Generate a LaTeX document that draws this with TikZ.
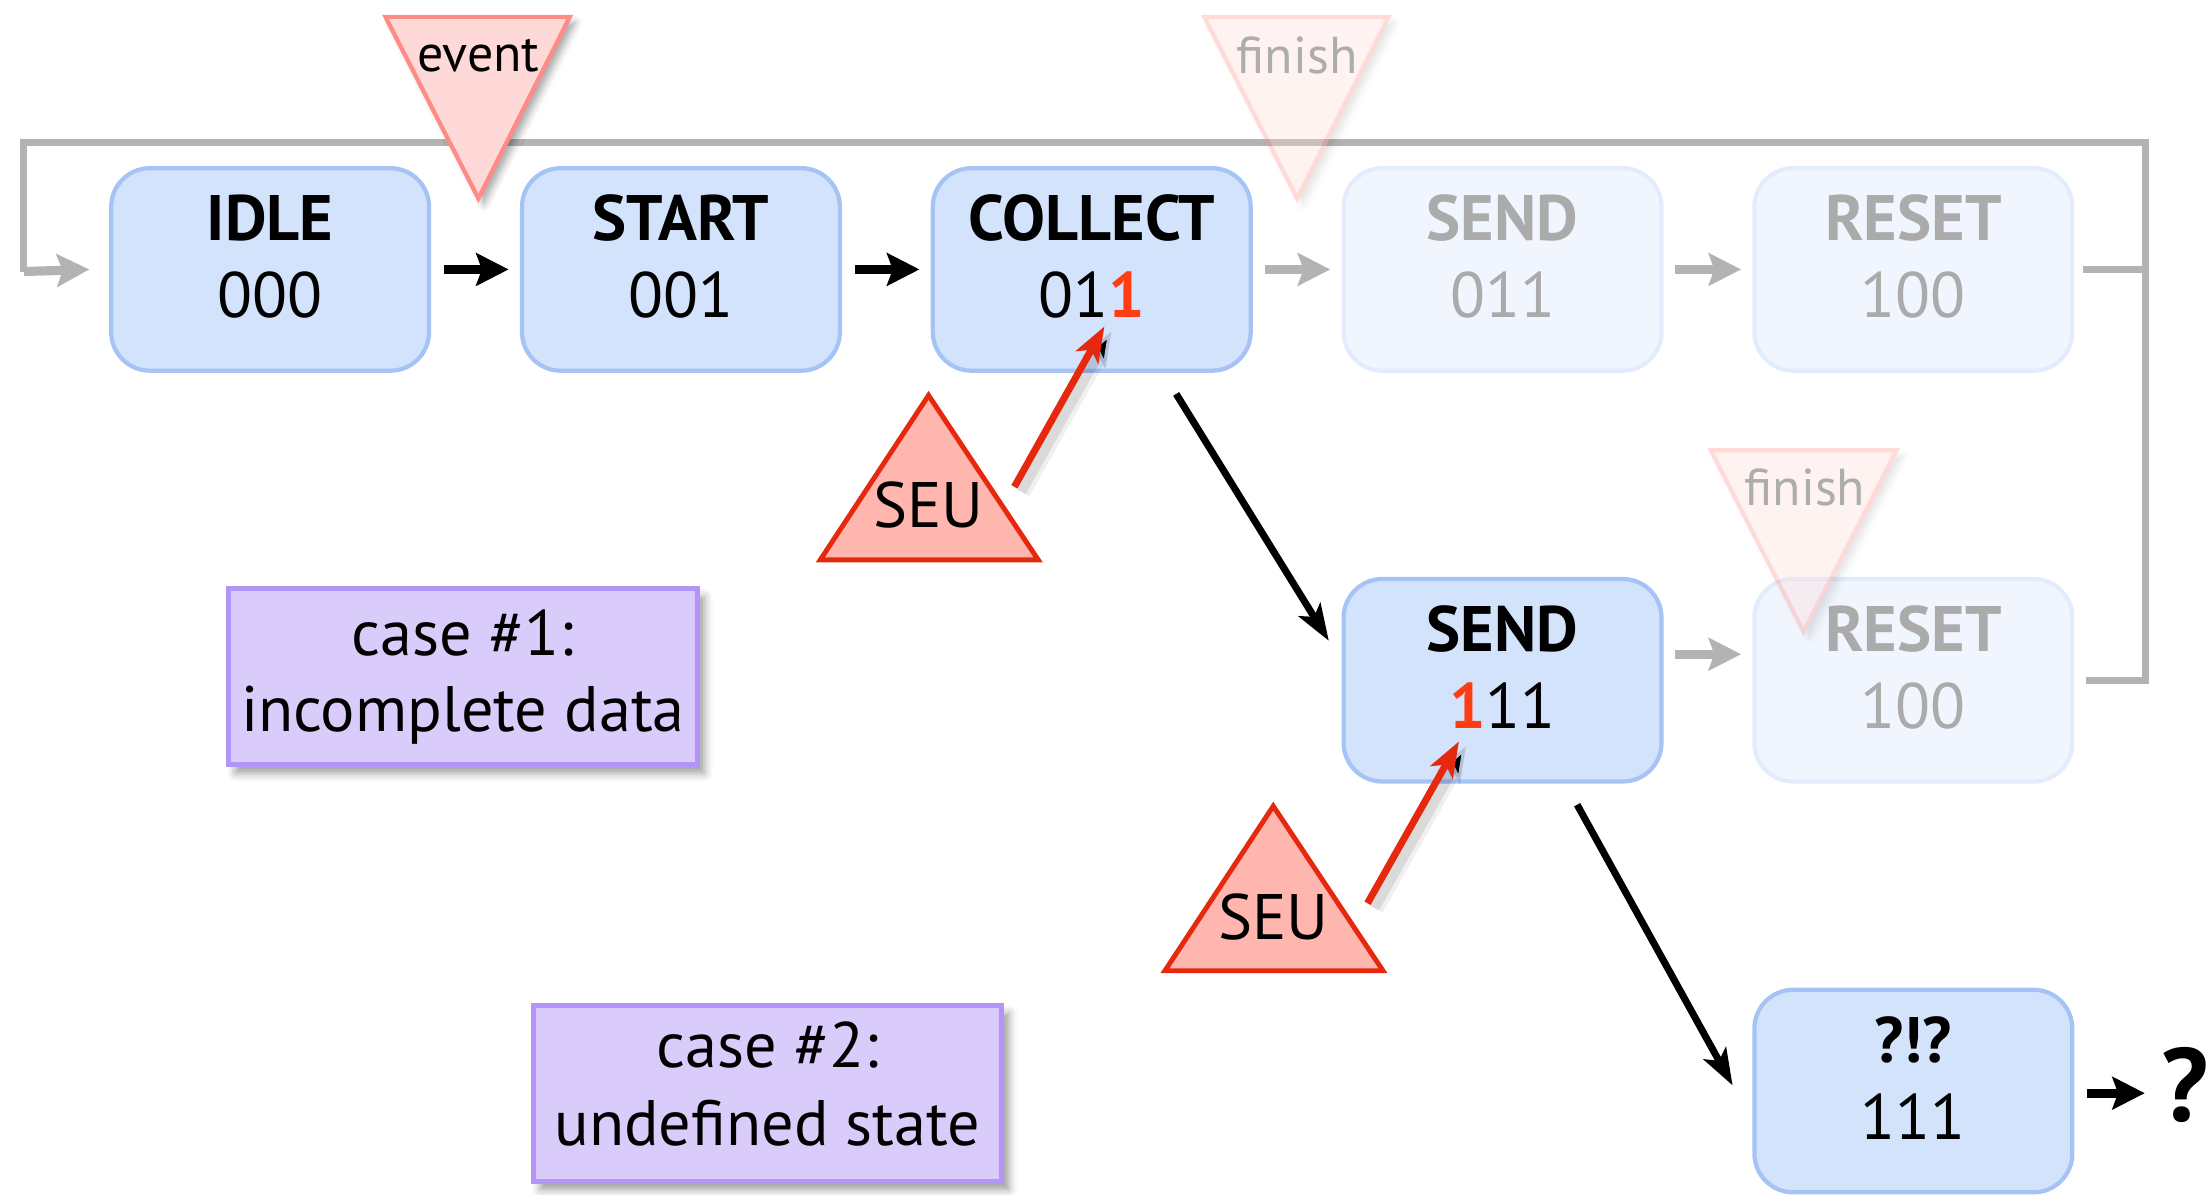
\documentclass[tikz,border=0pt]{standalone}
\usepackage{fontspec}
\setmainfont{PT Sans}
\usetikzlibrary{arrows.meta,calc,shadows.blur}

\definecolor{boxfill}{HTML}{D4E3FC}
\definecolor{boxline}{HTML}{A5C3F5}
\definecolor{fadefill}{HTML}{F1F6FE}
\definecolor{fadeline}{HTML}{E3ECFC}
\definecolor{fadetext}{HTML}{ABABAB}
\definecolor{loopgray}{HTML}{B3B3B3}
\definecolor{casefill}{HTML}{D9CCFB}
\definecolor{caseline}{HTML}{B394F7}
\definecolor{seufill}{HTML}{FFB6AF}
\definecolor{seuline}{HTML}{E6290E}
\definecolor{evfill}{HTML}{FFD9D8}
\definecolor{evline}{HTML}{FF8C84}
\definecolor{digred}{HTML}{FF3D12}

\tikzset{
  state/.style={rectangle, rounded corners=0.55cm, minimum width=4.52cm,
    minimum height=2.88cm, fill=boxfill, draw=boxline, line width=0.06cm, inner sep=0pt},
  fadestate/.style={state, fill=fadefill, draw=fadeline},
  casebox/.style={rectangle, fill=casefill, draw=caseline, line width=0.07cm,
    minimum width=6.66cm, minimum height=2.5cm, inner sep=0pt,
    blur shadow={shadow xshift=0.1cm, shadow yshift=-0.12cm,
      shadow blur radius=0.12cm, shadow opacity=40}},
  ttl/.style={font=\fontsize{26}{30}\selectfont\bfseries, inner sep=0pt, anchor=base},
  val/.style={font=\fontsize{26}{30}\selectfont, inner sep=0pt, anchor=base},
  small/.style={font=\fontsize{21}{24}\selectfont, inner sep=0pt, anchor=base},
  flow/.style={line width=0.13cm, -{Stealth[length=0.46cm, width=0.46cm, inset=0.08cm]}},
  blackflow/.style={flow, draw=black},
  grayflow/.style={flow, draw=loopgray},
  loopline/.style={line width=0.1cm, draw=loopgray},
  diag/.style={line width=0.1cm, -{Stealth[length=0.52cm, width=0.36cm, inset=0.12cm]}},
  hit/.style={line width=0.1cm, draw=seuline,
    -{Stealth[length=0.5cm, width=0.36cm, inset=0.12cm]},
    preaction={draw=black, draw opacity=0.06, line width=0.26cm,
      transform canvas={shift={(0.1cm,-0.07cm)}}},
    preaction={draw=black, draw opacity=0.09, line width=0.14cm,
      transform canvas={shift={(0.1cm,-0.07cm)}}}},
  evtri/.style={fill=evfill, draw=evline, line width=0.06cm, line join=miter,
    blur shadow={shadow xshift=0.08cm, shadow yshift=-0.08cm,
      shadow blur radius=0.1cm, shadow opacity=35}},
  seutri/.style={fill=seufill, draw=seuline, line width=0.07cm, line join=miter},
}

% a state box with its name on top and its code below
\newcommand\fsmstate[6]{%
  \node[#2] (#1) at (#3) {};
  \node[ttl,text=#6] (#1-t) at ($(#1.center)+(0,-20.5)$) {#4};
  \node[val,text=#6] (#1-v) at ($(#1.center)+(0,34.5)$) {#5};}

\begin{document}
\begin{tikzpicture}[x=0.02cm,y=-0.02cm]
\useasboundingbox (0,0) rectangle (1568,849);

% states, first row
\fsmstate{idle}{state}{192,191.5}{IDLE}{000}{black}
\fsmstate{start}{state}{484,191.5}{START}{001}{black}
\fsmstate{collect}{state}{776,191.5}{COLLECT}{01\textbf{\color{digred}1}}{black}
\fsmstate{sendA}{fadestate}{1068,191.5}{SEND}{011}{fadetext}
\fsmstate{resetA}{fadestate}{1360,191.5}{RESET}{100}{fadetext}
% states, second row
\fsmstate{sendB}{state}{1068,483.5}{SEND}{\textbf{\color{digred}1}11}{black}
\fsmstate{resetB}{fadestate}{1360,483.5}{RESET}{100}{fadetext}
% undefined state
\fsmstate{undef}{state}{1360,775.5}{?!?}{111}{black}

% loop back to IDLE
\coordinate (loopTR) at (1525,101);
\coordinate (loopTL) at (17,101);
\coordinate (loopBL) at (17,193);
\draw[loopline] ($(resetB.east)+(8,0)$) -- (loopTR |- resetB.east) -- (loopTR)
  -- (loopTL) -- (loopBL);
\draw[loopline] ($(resetA.east)+(6,0)$) -- (loopTR |- resetA.east);
\draw[grayflow] (loopBL) -- ($(idle.west)+(-14,0)$);

% transitions of the first row
\draw[blackflow] ($(idle.east)+(9,0)$) -- ($(start.west)+(-8,0)$);
\draw[blackflow] ($(start.east)+(9,0)$) -- ($(collect.west)+(-8,0)$);
\draw[grayflow] ($(collect.east)+(9,0)$) -- ($(sendA.west)+(-8,0)$);
\draw[grayflow] ($(sendA.east)+(8,0)$) -- ($(resetA.west)+(-8,0)$);
% transitions of the second row
\draw[grayflow] ($(sendB.east)+(8,-18.5)$) -- ($(resetB.west)+(-8,-18.5)$);
\draw[blackflow] ($(undef.east)+(9,1.5)$) -- ($(undef.east)+(50,1.5)$);
\node[font=\fontsize{42}{46}\selectfont\bfseries, inner sep=0pt, anchor=base]
  (unknown) at (1553,797) {?};

% upset jumps
\coordinate (d1s) at ($(collect.south)+(60,15)$);
\coordinate (d1e) at ($(sendB.west)+(-9,-28)$);
\draw[diag] (d1s) -- (d1e);
\coordinate (d2s) at ($(sendB.south)+(53,15)$);
\coordinate (d2e) at ($(undef.west)+(-14,-4)$);
\draw[diag] (d2s) -- (d2e);

% single event upsets
\draw[seutri] (660,281) -- (738,398) -- (583,398) -- cycle;
\node[val] (seuA) at (660,375) {SEU};
\coordinate (hitA) at (785,232);
\draw[hit] (721,346) -- (hitA);

\draw[seutri] (905,573) -- (983,690) -- (828,690) -- cycle;
\node[val] (seuB) at (905,668) {SEU};
\coordinate (hitB) at (1037,527);
\draw[hit] (972,642) -- (hitB);

% trigger markers
\draw[evtri] (274,12) -- (405,12) -- (340,141) -- cycle;
\node[small] (event) at (340,51) {event};

\begin{scope}[transparency group, opacity=0.32]
  \draw[evtri] (856,12) -- (987,12) -- (922,141) -- cycle;
  \node[small] (finA) at (922,52) {finish};
\end{scope}
\begin{scope}[transparency group, opacity=0.32]
  \draw[evtri] (1216,320) -- (1348,320) -- (1282,449) -- cycle;
  \node[small] (finB) at (1283,359) {finish};
\end{scope}

% the two failure cases
\node[casebox] (caseA) at (329,481) {};
\node[val] (caseAa) at (329,466) {case \#1:};
\node[val] (caseAb) at (329,520) {incomplete data};
\node[casebox] (caseB) at (545.5,777) {};
\node[val] (caseBa) at (545.5,759) {case \#2:};
\node[val] (caseBb) at (545.5,814.5) {undefined state};
\end{tikzpicture}
\end{document}
